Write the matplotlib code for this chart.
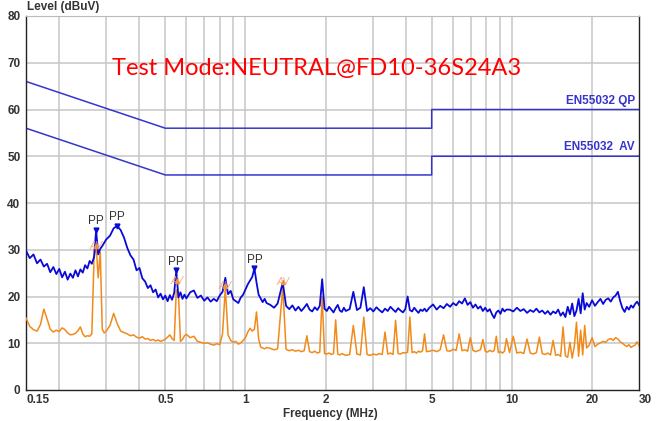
import numpy as np
import matplotlib
matplotlib.use("Agg")
import matplotlib.pyplot as plt

plt.rcParams["font.family"] = ["Liberation Sans", "DejaVu Sans"]

# sweep frequencies (MHz)
freq = [
    0.150, 0.155, 0.160, 0.165, 0.170, 0.175, 0.180, 0.185, 0.190, 0.195,
    0.200, 0.205, 0.210, 0.215, 0.220, 0.225, 0.230, 0.235, 0.240, 0.245,
    0.250, 0.255, 0.260, 0.265, 0.270, 0.275, 0.280, 0.285, 0.290, 0.295,
    0.300,
    0.31, 0.32, 0.33, 0.34, 0.35, 0.36, 0.37, 0.38, 0.39, 0.40,
    0.41, 0.42, 0.43, 0.44, 0.45, 0.46, 0.47, 0.48, 0.49, 0.50,
    0.51, 0.52, 0.53, 0.54, 0.55, 0.56, 0.57, 0.58, 0.59, 0.60,
    0.62, 0.64, 0.66, 0.68, 0.70, 0.72, 0.74, 0.76, 0.78, 0.80,
    0.82, 0.84, 0.86, 0.88, 0.90, 0.92, 0.94, 0.96, 0.98, 1.00,
    1.02, 1.04, 1.06, 1.08, 1.10, 1.12, 1.14, 1.16, 1.18, 1.20,
    1.24, 1.28, 1.32, 1.38, 1.42, 1.46, 1.50, 1.54, 1.58, 1.62,
    1.66, 1.70, 1.74, 1.78, 1.82, 1.86, 1.90, 1.94, 1.98, 2.02,
    2.06, 2.10, 2.14, 2.18, 2.22, 2.26, 2.30, 2.34, 2.38,
    2.46, 2.54, 2.62, 2.70, 2.78, 2.86, 2.94, 3.02, 3.10, 3.18,
    3.26, 3.34, 3.42, 3.50, 3.58, 3.66, 3.74, 3.82, 3.90, 3.98,
    4.06, 4.14, 4.22, 4.30, 4.38, 4.46, 4.54, 4.62, 4.70, 4.78,
    4.90, 5.06, 5.22, 5.38, 5.54, 5.70, 5.86, 6.02, 6.18, 6.34,
    6.50, 6.66, 6.82, 6.98, 7.14, 7.30, 7.46, 7.62, 7.78, 7.94,
    8.10, 8.26, 8.42, 8.58, 8.74, 8.90, 9.06, 9.22, 9.38, 9.54,
    9.80, 10.12, 10.44, 10.76, 11.08, 11.40, 11.72, 12.04, 12.36, 12.68,
    13.00, 13.32, 13.64, 13.96, 14.28, 14.60, 14.92, 15.24, 15.56, 15.88,
    16.20, 16.52, 16.84, 17.16, 17.48, 17.80, 18.12, 18.44, 18.76, 19.08,
    19.5, 20.0, 20.5, 21.0, 21.5, 22.0, 22.5, 23.0, 23.5, 24.0,
    24.5, 25.0, 25.5, 26.0, 26.5, 27.0, 27.5, 28.0, 28.5, 29.0,
    29.5, 30.0,
]

# peak detector trace (dBuV)
peak_level = [
    29.8, 28.2, 29.0, 27.1, 27.9, 26.4, 27.0, 25.2, 26.3, 24.8,
    25.9, 24.1, 25.3, 23.6, 24.9, 24.0, 25.6, 24.3, 25.8, 25.1,
    26.7, 26.0, 27.6, 27.0, 28.4, 34.2, 29.0, 30.2, 30.8, 31.5,
    32.2,
    33.0, 34.6, 35.1, 34.2, 32.6, 30.4, 28.8, 27.9, 25.6, 26.1,
    23.9, 23.2, 21.8, 22.4, 20.9, 21.5, 19.8, 20.6, 19.4, 20.2,
    19.0, 20.3, 19.3, 20.8, 25.6, 19.8, 20.9, 19.5, 20.4, 19.6,
    20.9, 21.3, 19.7, 20.2, 19.1, 19.8, 18.9, 19.5, 19.0, 20.2,
    21.0, 24.0, 20.5, 21.2, 19.4, 19.0, 18.6, 19.8, 20.4, 21.5,
    22.6, 23.4, 24.2, 26.0, 23.0, 20.4, 19.6, 18.8, 19.5, 18.6,
    18.2, 17.6, 18.5, 23.0, 18.0, 17.3, 18.1, 17.0, 17.8, 16.9,
    17.6, 18.4, 17.2, 16.8, 17.7, 17.1, 18.0, 23.7, 17.4, 16.9,
    17.8, 17.2, 16.6, 17.5, 18.2, 17.0, 16.7, 17.6, 16.9,
    17.3, 21.0, 17.1, 17.6, 22.0, 16.9, 17.5, 16.8, 17.7, 17.1,
    16.6, 17.4, 16.9, 17.8, 17.2, 16.7, 17.5, 17.0, 16.6, 17.3,
    20.0, 17.1, 16.8, 17.6, 17.0, 16.5, 17.2, 16.9, 17.4, 16.8,
    17.6, 18.3, 17.2, 18.0, 17.5, 18.4, 17.8, 18.6, 18.1, 19.0,
    18.5, 19.6, 18.2, 18.8, 17.6, 18.3, 17.4, 17.9, 16.9, 17.6,
    16.8, 17.3, 16.2, 15.4, 16.6, 17.0, 16.3, 17.4, 16.8, 17.2,
    17.2, 16.8, 17.6, 16.9, 17.3, 16.5, 17.1, 16.7, 17.4, 16.6,
    17.0, 16.3, 16.9, 16.1, 16.8, 16.4, 17.2, 15.9, 16.6, 15.6,
    17.8, 16.2, 18.5, 15.8, 17.0, 19.5, 16.4, 20.7, 17.2, 18.6,
    17.8, 19.2, 18.0, 18.8, 19.5, 18.4, 19.3, 19.6, 18.9, 19.8,
    20.2, 21.0, 19.0, 17.5, 16.7, 17.8, 17.2, 18.1, 17.6, 18.4,
    18.9, 18.2,
]

# average detector trace (dBuV)
avg_level = [
    15.4, 13.6, 12.9, 12.6, 14.0, 17.3, 15.2, 13.0, 12.4, 12.8,
    12.5, 13.3, 12.9, 12.2, 11.8, 11.9, 12.1, 12.7, 13.5, 12.0,
    11.4, 11.6, 11.5, 12.0, 28.0, 31.0, 24.0, 29.5, 13.0, 12.2,
    12.6,
    13.8, 16.4, 14.2, 12.6, 12.3, 12.0, 11.6, 11.8, 11.3, 11.1,
    11.4, 10.9, 11.0, 10.6, 10.8, 10.5, 10.7, 10.4, 10.6, 10.9,
    11.3, 11.8, 11.0, 10.6, 21.4, 20.8, 10.4, 10.8, 11.6, 11.9,
    11.2, 11.5, 10.4, 10.2, 10.0, 10.1, 9.8, 9.6, 9.9, 9.7,
    12.0, 21.8, 11.8, 10.6, 10.2, 10.4, 9.8, 10.1, 10.6, 11.2,
    12.4, 13.2, 12.6, 13.0, 16.7, 11.0, 9.2, 9.0, 8.8, 9.1,
    8.9, 8.6, 8.8, 22.0, 8.7, 8.4, 8.6, 8.3, 8.5, 8.2,
    8.4, 11.6, 8.2, 8.0, 8.3, 7.9, 8.1, 20.0, 7.8, 7.7,
    7.9, 7.6, 7.8, 15.0, 7.7, 7.5, 7.8, 7.6, 7.4,
    7.6, 13.8, 7.7, 7.5, 15.6, 7.6, 7.4, 7.7, 7.5, 7.8,
    7.6, 12.4, 7.7, 7.9, 7.6, 14.9, 7.8, 7.7, 8.0, 7.9,
    8.1, 15.6, 8.0, 8.2, 7.9, 8.3, 8.1, 8.4, 12.0, 8.2,
    8.3, 8.5, 8.2, 8.6, 11.8, 8.4, 8.3, 8.7, 8.5, 12.0,
    8.4, 8.6, 8.3, 11.2, 8.5, 8.2, 8.4, 8.6, 10.8, 8.3,
    8.1, 8.5, 8.2, 8.4, 11.5, 8.0, 8.2, 7.9, 8.3, 11.0,
    8.0, 11.5, 7.9, 8.1, 7.8, 10.9, 7.9, 7.7, 8.0, 11.3,
    7.8, 7.6, 7.9, 7.5, 10.6, 7.4, 7.6, 7.2, 13.5, 7.3,
    7.0, 10.2, 6.8, 9.5, 14.5, 7.2, 12.8, 7.5, 13.8, 9.0,
    9.6, 11.2, 9.3, 9.8, 10.1, 10.4, 10.2, 10.8, 11.0, 10.6,
    11.2, 10.9, 10.3, 10.0, 9.6, 9.3, 9.7, 9.1, 9.4, 9.6,
    10.3, 9.5,
]

# limit lines EN55032
limit_freq = [0.15, 0.5, 5, 5, 30]
qp_limit = [66, 56, 56, 60, 60]
av_limit = [56, 46, 46, 50, 50]

# final measurement marks
pp_freq = [0.275, 0.33, 0.55, 1.08]
pp_level = [34.2, 35.1, 25.6, 26.0]
av_freq = [0.275, 0.555, 0.84, 1.38]
av_level = [30.8, 23.3, 22.2, 23.0]

x_ticks = [0.15, 0.5, 1, 2, 5, 10, 20, 30]
x_tick_labels = ["0.15", "0.5", "1", "2", "5", "10", "20", "30"]
x_grid = [0.2, 0.3, 0.4, 0.5, 0.6, 0.7, 0.8, 0.9, 1, 2, 3, 4, 5, 6, 7, 8, 9, 10, 20]
y_ticks = [0, 10, 20, 30, 40, 50, 60, 70, 80]

fig = plt.figure(figsize=(6.66, 4.21), dpi=100)
ax = fig.add_axes([26 / 666, 31 / 421, 613 / 666, 374 / 421])

ax.set_xscale("log")
ax.set_xlim(0.15, 30)
ax.set_ylim(0, 80)

for g in x_grid:
    ax.axvline(g, color="#c6c6c6", lw=1.1, zorder=0)
for g in y_ticks[1:]:
    ax.axhline(g, color="#c6c6c6", lw=1.1, zorder=0)

ax.plot(limit_freq, qp_limit, color="#3535cc", lw=1.1, zorder=2)
ax.plot(limit_freq, av_limit, color="#3535cc", lw=1.1, zorder=2)

ax.plot(freq, avg_level, color="#f28a1a", lw=1.1, zorder=3)
ax.plot(freq, peak_level, color="#0a0ad8", lw=1.3, zorder=4)

ax.plot(pp_freq, pp_level, ls="none", marker="v", ms=3.5, color="#0a0ad8", zorder=5)
for f, v in zip(pp_freq, pp_level):
    ax.annotate("PP", (f, v), xytext=(0, 2), textcoords="offset points",
                ha="center", va="bottom", fontsize=8.5, color="#333333", zorder=6)

ax.plot(av_freq, av_level, ls="none", marker="^", ms=3, color="#f28a1a", zorder=5)
for f, v in zip(av_freq, av_level):
    ax.text(f, v, "AV", ha="center", va="center", fontsize=7.5, style="italic",
            color="#f3a070", alpha=0.85, zorder=6)

ax.annotate("EN55032 QP", (30, 60), xytext=(-3, 2), textcoords="offset points",
            ha="right", va="bottom", fontsize=8.5, fontweight="bold", color="#3535cc")
ax.annotate("EN55032  AV", (30, 50), xytext=(-3, 2), textcoords="offset points",
            ha="right", va="bottom", fontsize=8.5, fontweight="bold", color="#3535cc")

ax.set_xticks(x_ticks)
ax.set_xticklabels(x_tick_labels)
ax.xaxis.set_minor_locator(matplotlib.ticker.NullLocator())
ax.set_yticks(y_ticks)
ax.tick_params(length=0, labelsize=8.5, labelcolor="#333333")
ax.tick_params(axis="x", pad=3)
ax.tick_params(axis="y", pad=4)
for lab in ax.get_xticklabels() + ax.get_yticklabels():
    lab.set_fontweight("bold")
xl = ax.get_xticklabels()
xl[0].set_horizontalalignment("left")
xl[-1].set_horizontalalignment("left")

for side in ["left", "bottom", "right"]:
    ax.spines[side].set_color("#222222")
    ax.spines[side].set_linewidth(1.0)
ax.spines["top"].set_color("#bbbbbb")

fig.text(27 / 666, 1 - 7 / 421, "Level (dBuV)", ha="left", va="center",
         fontsize=8.5, fontweight="bold", color="#333333")
fig.text(330 / 666, 1 - 414 / 421, "Frequency (MHz)", ha="center", va="center",
         fontsize=8.5, fontweight="bold", color="#333333")

fig.text(317 / 666, 1 - 69 / 421, "Test Mode:NEUTRAL@FD10-36S24A3", ha="center",
         va="center", fontsize=17, color="#ff0000", family=["Lato", "DejaVu Sans"])

fig.savefig("out.png", dpi=100)
